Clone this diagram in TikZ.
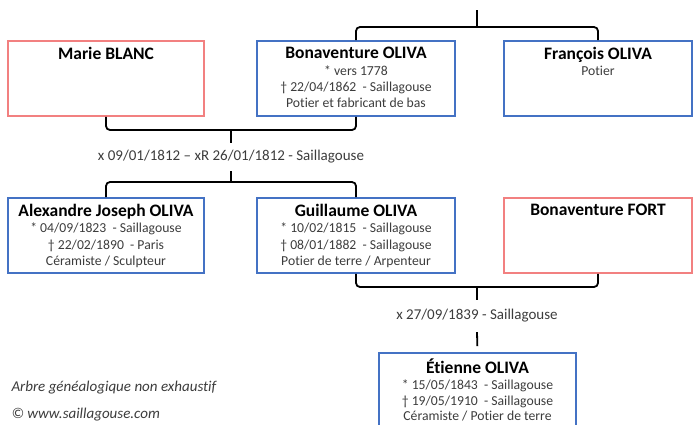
\documentclass[tikz,border=0pt]{standalone}
\usepackage{fontspec}
\setmainfont{Carlito}[Ligatures={TeX,NoCommon}]
\definecolor{boxblue}{RGB}{68,114,196}
\definecolor{boxred}{RGB}{242,128,128}
\definecolor{txtgray}{RGB}{60,60,60}
\tikzset{
  pbox/.style={draw=#1,line width=1.8pt,minimum height=75pt,inner sep=0pt},
  ptext/.style={anchor=north,inner sep=0pt,align=center,text=txtgray,
    font=\fontsize{13.7}{16.4}\selectfont},
  link/.style={line width=1.8pt,rounded corners=4pt},
  mlabel/.style={text=txtgray,inner ysep=0pt,font=\fontsize{15}{17}\selectfont}
}
\newcommand{\pname}[1]{{\fontsize{17.5}{16.4}\selectfont\bfseries\color{black}#1}}
\begin{document}
\begin{tikzpicture}[x=1pt,y=-1pt]
\useasboundingbox (0,0) rectangle (693,424);
\clip (0,0) rectangle (693,424);
\node[pbox=boxred,minimum width=196pt] (marie) at (106,78.5) {};
\node[pbox=boxblue,minimum width=198pt] (bonav) at (356,78.5) {};
\node[pbox=boxblue,minimum width=188pt] (franc) at (598,78.5) {};
\node[pbox=boxblue,minimum width=196pt] (alex) at (106,235.5) {};
\node[pbox=boxblue,minimum width=198pt] (guil) at (356,235.5) {};
\node[pbox=boxred,minimum width=188pt] (fort) at (598,235.5) {};
\node[pbox=boxblue,minimum width=197pt] (etienne) at (477.5,390.5) {};
\node[ptext] (marietxt) at ([yshift=-7pt]marie.north) {\pname{Marie BLANC}};
\node[ptext] (bonavtxt) at ([yshift=-7pt]bonav.north) {\pname{Bonaventure OLIVA}\\ * vers 1778\\ † 22/04/1862\ \ - Saillagouse\\ Potier et fabricant de bas};
\node[ptext] (franctxt) at ([yshift=-7pt]franc.north) {\pname{François OLIVA}\\ Potier};
\node[ptext] (alextxt) at ([yshift=-7pt]alex.north) {\pname{Alexandre Joseph OLIVA}\\ * 04/09/1823\ \ - Saillagouse\\ † 22/02/1890\ \ - Paris\\ Céramiste / Sculpteur};
\node[ptext] (guiltxt) at ([yshift=-7pt]guil.north) {\pname{Guillaume OLIVA}\\ * 10/02/1815\ \ - Saillagouse\\ † 08/01/1882\ \ - Saillagouse\\ Potier de terre / Arpenteur};
\node[ptext] (forttxt) at ([yshift=-7pt]fort.north) {\pname{Bonaventure FORT}};
\node[ptext,font=\fontsize{13.7}{15.8}\selectfont] (etiennetxt) at ([yshift=-6.5pt]etienne.north) {\pname{Étienne OLIVA}\\ * 15/05/1843\ \ - Saillagouse\\ † 19/05/1910\ \ - Saillagouse\\ Céramiste / Potier de terre};
\node[mlabel,minimum height=28pt] (mar1) at (231,157) {x 09/01/1812 – xR 26/01/1812 - Saillagouse};
\node[mlabel,minimum height=32pt] (mar2) at (477,316) {x 27/09/1839 - Saillagouse};
\coordinate (top) at (477,10);
\coordinate (p0) at (477,27);
\coordinate (m1) at (231,130);
\coordinate (c1) at (231,182);
\coordinate (m2) at (477,287);
\draw[link] (bonav.north) |- (p0) -| (franc.north);
\draw[link] (p0) -- (top);
\draw[link] (marie.south) |- (m1) -| (bonav.south);
\draw[link] (m1) -- (mar1.north);
\draw[link] (alex.north) |- (c1) -| (guil.north);
\draw[link] (mar1.south) -- (c1);
\draw[link] (guil.south) |- (m2) -| (fort.south);
\draw[link] (m2) -- (mar2.north);
\draw[link,shorten >=6pt] (mar2.south) -- (etienne.north);
\node[anchor=west,font=\fontsize{15}{17}\selectfont\itshape,text=txtgray] (note) at (8,388) {Arbre généalogique non exhaustif};
\node[anchor=west,font=\fontsize{15}{17}\selectfont\itshape,text=txtgray] (site) at (8,415) {© www.saillagouse.com};
\end{tikzpicture}
\end{document}
